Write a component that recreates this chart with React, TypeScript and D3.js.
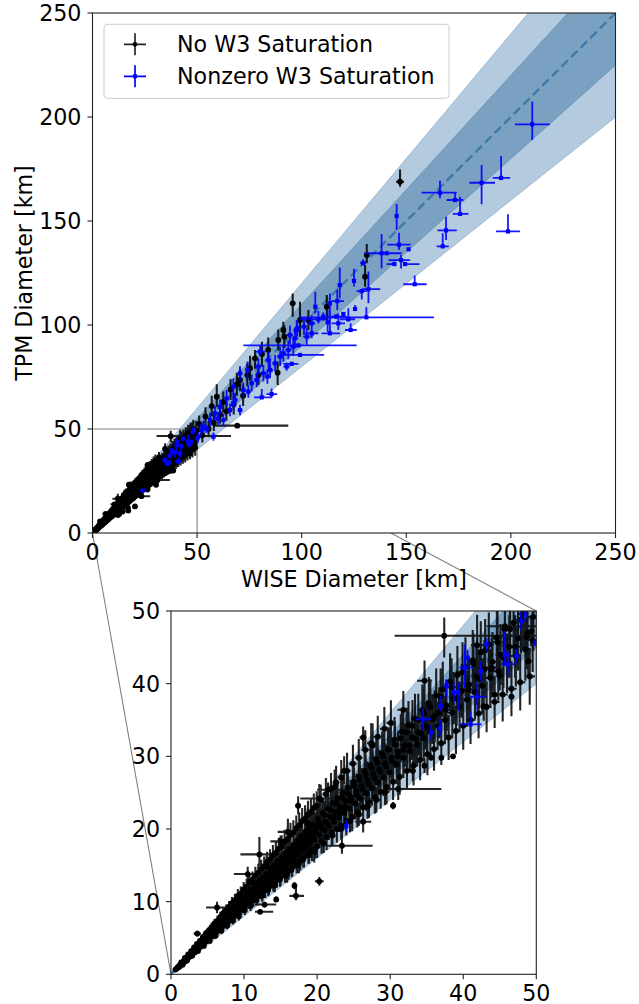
import React from 'react';
import * as d3 from 'd3';

type P = [number, number, number, number, number, number]; // x, y, xlo, xhi, ylo, yhi
type S = [number, number, number, number]; // x, y, xerr, yerr

const seriesNames = ['No W3 Saturation', 'Nonzero W3 Saturation'];
const xLabel = 'WISE Diameter [km]';
const yLabel = 'TPM Diameter [km]';
const topTicks = [0, 50, 100, 150, 200, 250];
const insetTicks = [0, 10, 20, 30, 40, 50];
const innerBand = [0.9, 1.1];
const outerBand = [0.8, 1.2];
const zoomBox = [0, 50];

// dense black cluster
const blackDenseA: S[] = [
  [0.8,0.8,0.02,0.1],[1.0,1.05,0.02,0.1],[1.2,1.1,0.03,0.12],[1.3,1.4,0.03,0.15],[1.5,1.45,0.03,0.15],[1.6,1.3,0.03,0.12],
  [1.7,1.8,0.04,0.2],[1.8,1.7,0.04,0.15],[1.9,2.0,0.04,0.2],[2.0,1.85,0.04,0.2],[2.1,2.2,0.05,0.25],[2.2,2.05,0.04,0.2],
  [2.3,2.4,0.05,0.25],[2.4,2.3,0.05,0.2],[2.5,2.6,0.05,0.3],[2.6,2.45,0.05,0.25],[2.7,2.8,0.06,0.3],[2.8,2.65,0.05,0.3],
  [2.9,3.05,0.06,0.3],[3.0,2.9,0.05,0.3],[3.1,3.2,0.07,0.35],[3.2,3.0,0.06,0.3],[3.3,3.5,0.07,0.4],[3.4,3.3,0.06,0.3],
  [3.5,3.7,0.08,0.4],[3.6,3.45,0.07,0.35],[3.7,3.9,0.08,0.4],[3.8,3.6,0.07,0.35],[3.9,4.1,0.09,0.45],[4.0,3.85,0.08,0.4],
  [4.1,4.3,0.09,0.4],[4.2,4.0,0.08,0.4],[4.3,4.6,0.1,0.5],[4.4,4.2,0.09,0.4],[4.5,4.75,0.1,0.5],[4.6,4.45,0.09,0.45],
  [4.7,4.9,0.1,0.5],[4.8,4.55,0.1,0.45],[4.9,5.2,0.1,0.55],[5.0,4.8,0.1,0.5],[2.2,1.95,0.05,0.15],[3.35,3.1,0.07,0.3],
];
const blackDenseB: S[] = [
  [5.1,5.3,0.1,0.5],[5.2,4.9,0.1,0.5],[5.3,5.7,0.12,0.6],[5.4,5.1,0.1,0.5],[5.5,5.6,0.12,0.6],[5.6,5.3,0.11,0.5],
  [5.7,6.2,0.12,0.7],[5.8,5.4,0.11,0.5],[5.9,6.0,0.12,0.6],[6.0,5.7,0.12,0.6],[6.1,6.6,0.13,0.7],[6.2,5.9,0.12,0.6],
  [6.3,6.4,0.13,0.7],[6.4,6.0,0.12,0.6],[6.5,7.0,0.14,0.8],[6.6,6.3,0.13,0.6],[6.7,6.8,0.14,0.7],[6.8,6.4,0.13,0.6],
  [6.9,7.4,0.15,0.8],[7.0,6.6,0.14,0.7],[7.1,7.2,0.15,0.7],[7.2,6.9,0.14,0.7],[7.3,7.8,0.16,0.8],[7.4,7.0,0.15,0.7],
  [7.5,7.6,0.16,0.8],[7.6,7.2,0.15,0.7],[7.7,8.3,0.17,0.9],[7.8,7.4,0.16,0.7],[7.9,8.0,0.17,0.8],[8.0,7.6,0.16,0.8],
  [8.1,8.7,0.18,0.9],[8.2,7.8,0.17,0.8],[8.3,8.4,0.18,0.8],[8.4,7.9,0.17,0.8],[8.5,9.2,0.19,1.0],[8.6,8.2,0.18,0.8],
  [8.7,8.8,0.19,0.9],[8.8,8.3,0.18,0.8],[8.9,9.6,0.2,1.0],[9.0,8.6,0.19,0.9],[9.1,9.2,0.2,0.9],[9.2,8.7,0.19,0.9],
  [9.3,10.1,0.21,1.0],[9.4,8.9,0.2,0.9],[9.5,9.6,0.21,1.0],[9.6,9.1,0.2,0.9],[9.7,10.4,0.22,1.1],[9.8,9.3,0.21,0.9],
  [9.9,9.9,0.22,1.0],[10.0,9.5,0.21,1.0],[6.05,6.1,0.12,0.5],[7.25,7.35,0.15,0.6],[8.45,8.55,0.18,0.7],[9.65,9.7,0.2,0.8],
];
const blackDenseC: S[] = [
  [10.1,10.6,0.22,1.0],[10.2,9.6,0.21,0.9],[10.4,11.2,0.23,1.1],[10.5,10.0,0.22,1.0],[10.6,10.9,0.23,1.0],[10.8,9.9,0.22,0.9],
  [10.9,11.6,0.24,1.2],[11.0,10.5,0.23,1.0],[11.2,11.0,0.24,1.1],[11.3,10.2,0.23,0.9],[11.4,12.3,0.25,1.2],[11.6,11.1,0.24,1.0],
  [11.7,11.8,0.25,1.1],[11.8,10.7,0.24,1.0],[12.0,12.9,0.26,1.3],[12.1,11.5,0.25,1.1],[12.2,12.4,0.26,1.2],[12.4,11.2,0.25,1.0],
  [12.5,13.3,0.27,1.3],[12.6,12.0,0.26,1.1],[12.8,12.9,0.27,1.2],[12.9,11.6,0.26,1.1],[13.0,13.8,0.28,1.4],[13.2,12.5,0.27,1.2],
  [13.3,13.2,0.28,1.2],[13.4,12.0,0.27,1.1],[13.6,14.5,0.29,1.4],[13.7,13.0,0.28,1.2],[13.8,13.8,0.29,1.3],[14.0,12.6,0.28,1.2],
  [14.1,15.0,0.3,1.5],[14.2,13.5,0.29,1.3],[14.4,14.3,0.3,1.3],[14.5,13.1,0.29,1.2],[14.6,15.6,0.31,1.5],[14.8,14.0,0.3,1.3],
  [14.9,14.9,0.31,1.4],[15.0,13.4,0.3,1.2],[15.2,16.1,0.32,1.5],[15.3,14.5,0.31,1.3],[15.4,15.4,0.32,1.4],[15.6,13.9,0.31,1.3],
  [15.7,16.7,0.33,1.6],[15.8,15.0,0.32,1.4],[16.0,15.9,0.33,1.5],[16.1,14.3,0.32,1.3],[16.2,17.2,0.34,1.6],[16.4,15.5,0.33,1.4],
  [16.5,16.4,0.34,1.5],[16.6,14.8,0.33,1.3],[16.8,17.8,0.35,1.7],[16.9,16.0,0.34,1.5],[17.0,17.0,0.35,1.6],[17.2,15.3,0.34,1.4],
  [17.3,18.4,0.36,1.7],[17.4,16.5,0.35,1.5],[17.6,17.5,0.36,1.6],[17.7,15.7,0.35,1.4],[17.8,19.0,0.37,1.8],[18.0,17.0,0.36,1.6],
  [18.1,18.0,0.37,1.7],[18.2,16.2,0.36,1.5],[18.4,19.6,0.38,1.8],[18.5,17.5,0.37,1.6],[18.6,18.5,0.38,1.7],[18.8,16.7,0.37,1.5],
  [18.9,20.1,0.39,1.9],[19.0,18.0,0.38,1.7],[19.2,19.0,0.39,1.8],[19.3,17.2,0.38,1.6],[19.4,20.6,0.4,1.9],[19.6,18.5,0.39,1.7],
  [19.8,19.6,0.4,1.8],[20.0,17.6,0.39,1.6],
];
const blackDenseD: S[] = [
  [20.1,21.4,0.4,2.0],[20.3,19.2,0.4,1.8],[20.5,20.4,0.41,1.9],[20.6,18.3,0.4,1.7],[20.8,22.2,0.42,2.1],[21.0,19.8,0.41,1.9],
  [21.1,21.0,0.42,2.0],[21.3,18.9,0.41,1.8],[21.5,22.8,0.43,2.2],[21.6,20.4,0.42,1.9],[21.8,21.7,0.43,2.0],[22.0,19.5,0.42,1.8],
  [22.1,23.6,0.44,2.3],[22.3,21.0,0.43,2.0],[22.5,22.3,0.44,2.1],[22.7,20.0,0.43,1.9],[22.8,24.2,0.45,2.4],[23.0,21.6,0.44,2.0],
  [23.2,23.0,0.45,2.2],[23.3,20.5,0.44,1.9],[23.5,25.0,0.46,2.4],[23.7,22.2,0.45,2.1],[23.9,23.8,0.46,2.3],[24.0,21.1,0.45,2.0],
  [24.2,25.7,0.47,2.5],[24.4,22.8,0.46,2.2],[24.6,24.4,0.47,2.3],[24.8,21.7,0.46,2.0],[25.0,26.5,0.48,2.6],[25.2,23.5,0.47,2.2],
  [25.4,25.2,0.48,2.4],[25.5,22.3,0.47,2.1],[25.7,27.2,0.49,2.7],[25.9,24.2,0.48,2.3],[26.1,25.9,0.49,2.5],[26.3,23.0,0.48,2.1],
  [26.5,28.0,0.5,2.8],[26.7,24.9,0.49,2.4],[26.9,26.7,0.5,2.6],[27.1,23.7,0.49,2.2],[27.3,28.8,0.51,2.9],[27.5,25.6,0.5,2.4],
  [27.7,27.5,0.51,2.6],[27.9,24.4,0.5,2.3],[28.1,29.6,0.52,3.0],[28.3,26.4,0.51,2.5],[28.5,28.2,0.52,2.7],[28.7,25.1,0.51,2.3],
  [28.9,30.4,0.53,3.0],[29.1,27.1,0.52,2.6],[29.3,29.0,0.53,2.8],[29.5,25.8,0.52,2.4],[29.7,31.0,0.54,3.0],[29.9,27.8,0.53,2.6],
];
const blackDenseE: S[] = [
  [30.2,29.8,0.55,2.8],[30.4,26.5,0.54,2.5],[30.6,32.3,0.56,3.1],[30.9,28.9,0.55,2.7],[31.1,30.6,0.56,2.9],[31.3,27.2,0.55,2.5],
  [31.6,33.4,0.57,3.2],[31.8,29.8,0.56,2.8],[32.0,31.5,0.57,3.0],[32.3,28.0,0.56,2.6],[32.5,34.3,0.58,3.3],[32.7,30.7,0.57,2.9],
  [33.0,32.6,0.58,3.1],[33.2,28.7,0.57,2.7],[33.4,35.2,0.59,3.4],[33.7,31.6,0.58,3.0],[33.9,33.3,0.59,3.2],[34.1,29.5,0.58,2.8],
  [34.4,36.4,0.6,3.5],[34.6,32.5,0.59,3.1],[34.8,34.2,0.6,3.3],[35.1,30.3,0.59,2.9],[35.3,37.3,0.61,3.6],[35.5,33.4,0.6,3.2],
  [35.8,35.1,0.61,3.4],[36.0,31.0,0.6,3.0],[36.3,38.4,0.62,3.7],[36.5,34.2,0.61,3.3],[36.7,36.0,0.62,3.5],[37.0,31.8,0.61,3.0],
  [37.2,39.2,0.63,3.8],[37.5,35.0,0.62,3.3],[37.7,37.0,0.63,3.5],[38.0,32.6,0.62,3.1],[38.2,40.3,0.64,3.9],[38.5,36.0,0.63,3.4],
  [38.7,38.0,0.64,3.6],[39.0,33.5,0.63,3.2],[39.2,41.2,0.65,4.0],[39.5,36.8,0.64,3.5],[39.8,39.0,0.65,3.7],[40.0,34.2,0.64,3.3],
  [40.3,42.3,0.66,4.1],[40.5,37.8,0.65,3.6],[40.8,39.9,0.66,3.8],[41.0,35.0,0.65,3.3],[41.3,43.2,0.67,4.2],[41.6,38.8,0.66,3.7],
  [41.8,41.0,0.67,3.9],[42.1,35.9,0.66,3.4],[42.4,44.3,0.68,4.3],[42.6,39.7,0.67,3.8],[42.9,42.0,0.68,4.0],[43.2,36.8,0.67,3.5],
  [43.5,45.4,0.69,4.4],[43.7,40.8,0.68,3.9],[44.0,43.0,0.69,4.1],[44.3,37.5,0.68,3.6],[44.6,46.3,0.7,4.5],[44.8,41.7,0.69,4.0],
  [45.1,44.0,0.7,4.2],[45.4,38.5,0.69,3.7],[45.7,47.5,0.71,4.6],[46.0,42.8,0.7,4.1],[46.3,45.1,0.71,4.3],[46.6,39.3,0.7,3.8],
  [46.9,48.4,0.72,4.7],[47.2,43.8,0.71,4.2],[47.5,46.2,0.72,4.4],[47.8,40.2,0.71,3.9],[48.2,49.6,0.73,4.8],[48.5,44.7,0.72,4.3],
  [48.8,47.0,0.73,4.5],[49.1,41.0,0.72,3.9],[49.5,46.0,0.74,4.4],
];
// further black points filling the dense ribbon
const blackDenseF: S[] = [
  [0.6,0.65,0.02,0.08],[0.9,0.95,0.02,0.1],[1.1,1.0,0.03,0.1],[1.25,1.3,0.03,0.12],[1.45,1.5,0.03,0.14],[1.65,1.6,0.04,0.15],
  [1.85,1.95,0.04,0.18],[2.05,2.0,0.04,0.2],[2.25,2.3,0.05,0.22],[2.45,2.5,0.05,0.24],[2.65,2.6,0.05,0.25],[2.85,2.95,0.06,0.28],
  [3.05,3.1,0.06,0.3],[3.25,3.2,0.07,0.3],[3.45,3.6,0.07,0.35],[3.65,3.75,0.07,0.36],[3.85,3.8,0.08,0.38],[4.05,4.2,0.08,0.4],
  [4.25,4.35,0.09,0.42],[4.45,4.4,0.09,0.44],[4.65,4.8,0.1,0.46],[4.85,4.9,0.1,0.48],[5.05,5.0,0.1,0.5],[5.35,5.5,0.11,0.55],
  [5.65,5.8,0.12,0.58],[5.95,5.85,0.12,0.6],[6.25,6.5,0.13,0.62],[6.55,6.6,0.13,0.65],[6.85,6.9,0.14,0.68],[7.15,7.0,0.15,0.7],
  [7.45,7.7,0.15,0.74],[7.75,7.8,0.16,0.77],[8.05,8.2,0.17,0.8],[8.35,8.1,0.17,0.82],[8.65,8.9,0.18,0.86],[8.95,9.1,0.19,0.88],
  [9.25,9.3,0.19,0.9],[9.55,9.4,0.2,0.93],[9.85,10.2,0.2,0.97],
];
const blackDenseG: S[] = [
  [10.15,10.3,0.21,1.0],[10.45,10.7,0.22,1.0],[10.75,10.6,0.22,1.05],[11.05,11.4,0.23,1.1],[11.35,11.3,0.24,1.1],[11.65,11.5,0.24,1.15],
  [11.95,12.2,0.25,1.2],[12.25,12.0,0.25,1.2],[12.55,12.9,0.26,1.25],[12.85,12.6,0.27,1.25],[13.15,13.4,0.27,1.3],[13.45,13.3,0.28,1.3],
  [13.75,14.1,0.29,1.35],[14.05,13.9,0.29,1.4],[14.35,14.8,0.3,1.45],[14.65,14.4,0.3,1.45],[14.95,15.4,0.31,1.5],[15.25,15.0,0.32,1.5],
  [15.55,16.0,0.32,1.55],[15.85,15.6,0.33,1.55],[16.15,16.6,0.34,1.6],[16.45,16.1,0.34,1.6],[16.75,17.3,0.35,1.65],[17.05,16.6,0.35,1.65],
  [17.35,17.9,0.36,1.7],[17.65,17.1,0.37,1.7],[17.95,18.5,0.37,1.75],[18.25,17.8,0.38,1.75],[18.55,19.2,0.39,1.8],[18.85,18.3,0.39,1.8],
  [19.15,19.8,0.4,1.85],[19.45,18.9,0.4,1.85],[19.75,20.4,0.41,1.9],[14.2,12.4,0.3,1.1],[15.9,13.8,0.33,1.2],[17.5,15.2,0.36,1.3],
  [18.7,20.8,0.39,2.0],[13.1,14.9,0.27,1.4],[11.2,12.7,0.23,1.2],[19.6,16.9,0.4,1.5],
];
const blackDenseH: S[] = [
  [20.25,20.9,0.42,1.95],[20.65,20.1,0.42,1.95],[21.05,21.9,0.43,2.0],[21.45,20.7,0.44,2.0],[21.85,22.6,0.45,2.1],[22.25,21.6,0.46,2.1],
  [22.65,23.5,0.46,2.2],[23.05,22.4,0.47,2.2],[23.45,24.3,0.48,2.3],[23.85,23.0,0.49,2.3],[24.25,24.9,0.5,2.4],[24.65,23.9,0.5,2.4],
  [25.05,25.9,0.51,2.5],[25.45,24.7,0.52,2.5],[25.85,26.8,0.53,2.6],[26.25,25.5,0.54,2.6],[26.65,27.4,0.55,2.7],[27.05,26.2,0.55,2.7],
  [27.45,28.4,0.56,2.8],[27.85,27.0,0.57,2.8],[28.25,29.1,0.58,2.9],[28.65,27.9,0.59,2.9],[29.05,30.0,0.6,3.0],[29.45,28.6,0.6,3.0],
  [29.85,30.9,0.61,3.1],[30.25,29.3,0.62,3.1],[30.65,31.6,0.63,3.2],[31.05,30.0,0.64,3.2],[31.45,32.5,0.64,3.3],[31.85,30.9,0.65,3.3],
  [32.25,33.3,0.66,3.4],[32.65,31.5,0.67,3.4],[33.05,34.2,0.68,3.5],[33.45,32.4,0.69,3.5],[33.85,35.0,0.69,3.6],[34.25,33.1,0.7,3.6],
  [34.65,35.9,0.71,3.7],[35.05,34.0,0.72,3.7],[22.4,25.8,0.46,2.4],[27.6,31.5,0.56,3.0],
];
const blackDenseI: S[] = [
  [35.5,36.8,0.73,3.8],[36.1,35.5,0.74,3.6],[36.9,38.2,0.75,3.9],[37.6,36.4,0.77,3.7],[38.4,39.5,0.78,4.0],[39.1,38.0,0.8,3.8],
  [39.9,41.6,0.81,4.1],[40.7,39.2,0.83,3.9],[41.4,42.7,0.84,4.2],[42.2,40.6,0.86,4.0],[43.0,44.6,0.87,4.3],[43.9,42.2,0.89,4.1],
  [44.7,45.7,0.9,4.4],[45.5,43.6,0.92,4.2],[46.4,47.5,0.93,4.5],[47.1,45.1,0.95,4.3],[47.9,48.8,0.96,4.6],[48.7,46.4,0.98,4.4],
  [49.6,49.2,1.0,4.7],[41.9,45.3,0.85,4.2],
];
// upper edge of the ribbon
const blackDenseJ: S[] = [
  [1.4,1.65,0.03,0.15],[1.9,2.25,0.04,0.2],[2.35,2.75,0.05,0.25],[2.75,3.2,0.06,0.3],[3.15,3.7,0.07,0.35],[3.55,4.2,0.07,0.4],
  [3.95,4.6,0.08,0.4],[4.35,5.1,0.09,0.45],[4.75,5.6,0.1,0.5],[5.15,6.0,0.1,0.55],[5.55,6.5,0.11,0.6],[5.95,7.0,0.12,0.6],
  [6.35,7.4,0.13,0.65],[6.75,7.9,0.14,0.7],[7.15,8.4,0.15,0.75],[7.55,8.8,0.15,0.8],[7.95,9.3,0.16,0.8],[8.35,9.8,0.17,0.85],
  [8.75,10.2,0.18,0.9],[9.15,10.8,0.19,0.95],[9.55,11.1,0.2,1.0],[9.95,11.7,0.2,1.0],[10.35,12.1,0.21,1.05],[10.75,12.7,0.22,1.1],
  [11.15,13.0,0.23,1.15],[11.55,13.6,0.24,1.2],[11.95,14.0,0.25,1.2],[12.35,14.5,0.25,1.25],[12.75,14.9,0.26,1.3],[13.15,15.5,0.27,1.35],
  [13.55,15.8,0.28,1.4],[13.95,16.4,0.29,1.4],[14.35,16.7,0.3,1.45],[14.75,17.3,0.3,1.5],[15.15,17.6,0.31,1.55],[15.55,18.3,0.32,1.6],
  [15.95,18.6,0.33,1.6],[16.35,19.2,0.34,1.65],[16.75,19.5,0.35,1.7],[17.15,20.1,0.35,1.75],[17.55,20.5,0.36,1.8],[17.95,21.1,0.37,1.8],
  [18.35,21.4,0.38,1.85],[18.75,22.0,0.39,1.9],[19.15,22.3,0.4,1.95],[19.55,22.9,0.4,2.0],[19.95,23.2,0.41,2.0],[20.5,24.0,0.42,2.1],
  [21.2,24.8,0.44,2.2],[21.9,25.5,0.45,2.2],[22.6,26.4,0.46,2.3],[23.3,27.1,0.48,2.4],[24.1,28.0,0.49,2.5],[24.9,29.0,0.51,2.6],
  [25.7,29.8,0.52,2.6],[26.6,30.9,0.54,2.7],[27.4,31.8,0.56,2.8],[28.3,32.7,0.57,2.9],[29.2,33.8,0.59,3.0],[30.1,34.6,0.6,3.1],
];
// lower edge of the ribbon
const blackDenseK: S[] = [
  [2.1,1.85,0.05,0.15],[2.9,2.55,0.06,0.2],[3.7,3.2,0.07,0.25],[4.5,3.9,0.09,0.3],[5.3,4.6,0.11,0.35],[6.1,5.3,0.12,0.4],
  [6.9,6.0,0.14,0.45],[7.7,6.7,0.16,0.5],[8.5,7.4,0.17,0.55],[9.3,8.0,0.19,0.6],[10.1,8.8,0.2,0.65],[10.9,9.4,0.22,0.7],
  [11.7,10.2,0.24,0.75],[12.5,10.8,0.25,0.8],[13.3,11.6,0.27,0.85],[14.1,12.2,0.28,0.9],[14.9,13.0,0.3,0.95],[15.7,13.6,0.32,1.0],
  [16.5,14.4,0.33,1.05],[17.3,15.0,0.35,1.1],[18.1,15.8,0.36,1.15],[18.9,16.4,0.38,1.2],[19.7,17.2,0.4,1.25],[20.9,18.0,0.42,1.3],
  [22.1,19.1,0.44,1.4],[23.3,20.0,0.47,1.45],[24.5,21.1,0.49,1.55],[25.7,22.0,0.51,1.6],[26.9,23.1,0.54,1.7],[28.1,24.0,0.56,1.75],
  [29.3,25.1,0.59,1.85],
];
// individually read black points (inset and main panel)
const blackSingles: P[] = [
  [37.4,46.6,6.8,28.8,3.0,2.5],[45.7,47.9,2.5,4.3,1.5,1.5],[34.7,40.4,1.0,1.0,2.8,2.8],[31.8,36.4,0.8,0.8,2.9,2.6],
  [26.3,32.6,0.5,0.5,1.5,1.5],[17.4,23.2,0.4,0.4,1.2,1.3],[20.3,24.2,2.6,7.5,2.0,2.0],[21.5,25.4,1.5,2.5,1.0,1.0],
  [31.1,25.5,2.1,5.9,1.5,1.5],[30.4,23.2,0.4,0.4,0.5,0.5],[26.3,21.0,1.1,1.1,1.5,1.5],[23.4,17.7,2.1,4.2,1.1,2.5],
  [20.3,12.8,0.6,0.6,0.6,0.6],[17.1,10.8,0.9,1.1,0.6,1.2],[16.9,12.2,0.3,0.3,0.5,0.5],[14.4,10.3,0.3,0.3,0.4,0.4],
  [12.8,9.6,1.3,1.6,0.4,0.4],[12.2,8.6,0.7,1.8,0.3,0.3],[12.1,16.5,2.6,2.3,1.6,2.4],[10.5,13.8,1.9,2.1,1.0,1.0],
  [6.3,9.2,1.5,1.6,0.8,0.8],[3.6,5.6,0.5,0.5,0.4,0.4],[16.0,19.6,1.4,1.8,1.0,1.8],[15.0,18.3,1.4,1.3,0.8,0.8],
  [23.7,28.0,0.5,0.5,1.8,2.0],[38.6,30.0,0.3,0.3,0.2,0.2],[37.0,29.8,0.3,0.3,0.2,0.2],[35.6,29.8,0.3,0.3,0.2,0.2],
  [34.7,28.7,0.3,0.3,1.0,1.0],[33.1,28.0,0.4,0.4,1.4,1.4],[46.6,38.2,0.4,0.4,0.6,1.3],[44.3,38.5,0.4,0.4,1.0,1.0],
  [42.8,36.9,0.4,0.4,2.0,2.0],[48.9,43.1,0.5,0.5,2.1,1.8],[45.0,41.1,0.5,0.5,2.0,2.0],[43.8,42.0,0.5,0.5,2.5,2.5],
  [49.3,47.2,0.5,0.5,2.0,2.0],
];
const blackLarge: P[] = [
  [147.0,168.9,1.9,1.9,2.4,5.9],[131.1,133.7,1.2,1.2,4.0,5.3],[130.3,123.2,1.2,1.2,4.8,5.6],[112.0,108.8,1.0,1.0,6.4,5.6],
  [103.2,102.4,1.0,1.0,4.8,4.8],[99.2,102.4,1.0,1.0,8.0,8.8],[95.7,110.4,1.0,1.0,6.4,4.8],[91.7,94.4,1.0,1.0,5.5,5.5],
  [91.2,97.6,1.0,1.0,4.0,4.0],[88.8,92.8,1.0,1.0,5.0,5.0],[88.5,77.1,1.0,1.0,5.9,5.3],[84.0,88.0,1.0,1.0,6.0,6.0],
  [81.0,86.0,1.0,1.0,6.0,6.0],[79.3,76.0,1.0,1.0,5.0,5.0],[77.7,84.0,1.0,1.0,5.0,4.0],[75.3,79.2,1.0,1.0,6.0,6.0],
  [74.0,76.0,1.0,1.0,5.5,5.5],[72.0,66.0,1.0,1.0,5.0,5.0],[70.5,73.6,1.0,1.0,5.5,5.5],[69.2,51.6,11.5,24.4,1.0,1.0],
  [69.0,71.5,1.0,1.0,5.5,5.5],[67.5,62.0,1.0,1.0,5.0,5.0],[66.0,69.0,1.0,1.0,5.0,5.0],[64.0,58.5,1.0,1.0,4.5,4.5],
  [62.5,63.0,1.0,1.0,5.0,5.0],[61.0,57.0,1.0,1.0,4.5,4.5],[59.4,65.5,1.0,1.0,5.0,6.0],[58.0,53.0,1.0,1.0,4.0,4.0],
  [57.0,61.0,1.0,1.0,5.0,5.0],[55.5,50.0,1.0,1.0,4.0,4.0],[54.0,56.0,1.0,1.0,4.5,4.5],[52.5,47.0,1.0,1.0,3.5,3.5],
  [51.0,52.5,1.0,1.0,4.0,4.0],
];
const blueSmall: P[] = [
  [41.0,34.4,1.4,1.5,0.2,1.8],[41.9,38.2,1.1,1.2,1.9,2.0],[34.5,35.1,1.0,1.1,1.5,1.5],[35.6,33.3,0.3,0.3,1.0,1.0],
  [36.8,33.9,0.3,0.3,1.2,1.2],[36.9,36.9,0.3,0.3,0.7,1.4],[37.7,39.7,0.3,0.3,1.6,0.9],[38.7,38.8,0.3,0.3,1.4,1.4],
  [39.3,38.8,0.3,0.3,2.5,1.4],[40.2,42.2,0.7,1.1,2.8,3.2],[40.6,43.6,0.3,0.3,1.0,1.0],[42.4,41.7,0.3,0.3,1.4,1.4],
  [43.2,45.4,0.3,0.3,0.9,0.9],[45.7,44.0,0.3,0.3,1.6,3.2],[46.1,42.7,0.9,0.9,1.6,1.8],[47.3,43.8,0.3,0.3,1.0,1.0],
  [47.9,48.6,0.3,0.3,1.2,1.4],[49.9,45.6,0.3,0.3,0.5,0.5],[24.0,20.4,0.2,0.2,0.8,0.8],[48.5,49.5,0.3,0.3,1.0,1.5],
];
const blueMid: P[] = [
  [50.5,46.0,0.8,0.8,2.5,2.5],[52.0,49.5,0.8,0.8,3.0,3.0],[53.0,51.1,0.9,0.9,3.0,3.0],[54.5,50.0,1.5,1.5,2.0,2.0],
  [56.2,54.3,0.9,0.9,3.0,3.5],[57.8,46.3,1.0,1.0,2.0,2.0],[58.6,57.5,1.0,1.0,3.0,3.5],[60.0,55.0,1.0,1.0,3.0,3.0],
  [61.0,60.7,1.0,1.0,3.5,3.5],[62.6,54.3,1.0,1.0,3.0,3.0],[64.1,64.7,1.0,1.0,3.5,4.0],[65.7,59.1,1.0,1.0,3.0,3.0],
  [67.3,62.4,1.1,1.1,3.5,3.5],[67.3,70.3,1.1,1.1,4.0,4.0],[68.2,63.9,1.1,1.1,3.5,3.5],[70.5,59.1,1.2,1.2,2.5,2.5],
  [70.5,76.8,1.2,1.2,3.5,3.5],[72.1,68.8,1.2,1.2,3.5,3.5],[74.1,78.4,1.2,1.2,4.0,4.0],[74.5,68.0,1.2,1.2,3.0,3.0],
  [76.1,72.0,1.2,1.2,4.0,4.0],[78.5,73.6,1.3,1.3,3.5,3.5],[80.1,87.2,2.4,2.4,1.6,3.2],[79.3,80.0,1.3,1.3,4.0,4.0],
  [80.9,65.2,3.7,4.8,0.3,4.0],[81.7,76.8,1.3,1.3,4.0,4.0],[83.6,75.2,1.3,1.3,3.5,3.5],[84.1,83.2,1.4,1.4,4.0,4.0],
  [84.9,78.4,1.4,1.4,4.0,4.0],[85.6,66.8,2.4,2.7,1.6,2.7],[87.3,81.6,1.4,1.4,4.0,4.0],[89.7,84.8,1.5,1.5,4.5,4.5],
  [91.2,86.4,1.5,1.5,4.0,4.0],[92.8,80.0,1.5,1.5,2.0,2.0],[93.6,88.0,1.5,1.5,4.5,4.5],[94.4,95.2,1.5,1.5,4.5,4.5],
  [95.2,81.3,4.0,3.2,1.0,1.0],[96.0,89.6,1.6,1.6,4.5,4.5],[96.8,93.6,1.6,1.6,4.5,4.5],[97.6,97.6,1.6,1.6,3.2,4.8],
  [97.9,98.4,1.6,1.6,4.0,4.0],[98.4,90.2,26.3,27.9,0.5,0.5],[99.2,85.6,9.6,11.5,0.5,0.5],[101.1,99.2,1.6,1.6,4.0,4.0],
  [102.4,94.4,1.7,1.7,4.0,4.0],[104.8,100.8,1.7,1.7,4.0,4.0],[104.8,96.0,3.2,3.2,2.4,4.0],
];
const blueLarge: P[] = [
  [210.2,196.5,8.3,8.4,7.5,10.9],[186.0,168.4,5.9,6.4,10.3,8.5],[195.3,170.7,4.0,4.3,0.5,10.6],[198.6,145.0,5.7,5.7,0.5,8.3],
  [166.1,163.6,8.8,8.0,2.7,5.8],[173.3,160.1,4.0,4.0,0.5,3.5],[175.7,153.4,3.5,4.0,0.5,8.3],[169.0,145.5,4.1,5.1,4.6,6.6],
  [167.4,137.8,2.9,2.9,0.5,6.3],[145.4,152.4,0.5,0.5,6.7,5.8],[146.5,138.6,5.6,5.6,2.6,5.8],[151.1,136.4,0.5,0.5,0.5,0.5],
  [138.2,134.5,8.0,1.6,7.2,9.3],[140.6,134.5,0.8,7.2,0.5,0.5],[147.5,131.2,6.0,4.3,4.0,2.4],[144.3,129.3,3.7,0.5,0.5,0.5],
  [149.4,129.3,0.8,6.9,0.5,0.5],[154.0,119.6,5.4,5.7,0.5,4.2],[129.3,129.7,1.4,1.4,0.5,1.9],[125.0,121.2,0.5,0.5,2.7,5.8],
  [118.2,119.2,0.5,0.5,6.4,8.5],[128.7,116.3,2.4,2.4,4.0,0.5],[131.9,117.2,3.2,5.6,6.7,8.5],[117.0,111.5,2.7,3.2,4.3,5.3],
  [106.5,108.8,0.5,0.5,3.2,7.2],[113.5,110.4,0.5,0.5,4.0,4.8],[125.5,107.7,0.5,0.5,0.5,1.9],[130.9,103.7,31.7,32.3,0.5,4.8],
  [122.3,102.7,4.0,3.2,0.5,5.3],[123.4,97.6,2.7,2.9,0.5,3.2],[117.5,100.8,3.2,3.2,3.2,4.8],[113.5,96.0,4.0,4.8,0.5,12.0],
  [112.4,101.3,0.5,0.5,4.5,5.9],[108.0,102.7,8.8,4.0,2.0,4.0],[110.3,104.0,0.5,0.5,2.0,2.0],[116.4,104.0,4.5,5.1,1.0,1.0],
  [119.9,105.3,0.5,0.5,1.0,1.0],
];

const sym = (a: S[]): P[] => a.map(([x, y, ex, ey]) => [x, y, ex, ex, ey, ey]);
const blackAll: P[] = [
  ...sym(blackDenseA), ...sym(blackDenseB), ...sym(blackDenseC), ...sym(blackDenseD), ...sym(blackDenseE),
  ...sym(blackDenseF), ...sym(blackDenseG), ...sym(blackDenseH), ...sym(blackDenseI), ...sym(blackDenseJ),
  ...sym(blackDenseK), ...blackSingles, ...blackLarge,
];
const blueAll: P[] = [...blueSmall, ...blueMid, ...blueLarge];

const FONT = 'DejaVu Sans, sans-serif';
const FS = 22.2;
const BAND_OUT = '#b4cade';
const BAND_IN = '#7aa1c1';
const DASH = '#3f79a8';
const BLACK = '#000000';
const BLUE = '#0000ff';

type Sc = d3.ScaleLinear<number, number>;

function barsPath(pts: P[], xs: Sc, ys: Sc) {
  const p = d3.path();
  for (const [x, y, xl, xh, yl, yh] of pts) {
    p.moveTo(xs(x - xl), ys(y));
    p.lineTo(xs(x + xh), ys(y));
    p.moveTo(xs(x), ys(y - yl));
    p.lineTo(xs(x), ys(y + yh));
  }
  return p.toString();
}

function Panel({ xs, ys, max, ticks, id, showLabels }: { xs: Sc; ys: Sc; max: number; ticks: number[]; id: string; showLabels: boolean }) {
  const [x0, x1] = xs.range();
  const [y0, y1] = ys.range(); // y0 bottom, y1 top
  const dom = [0, max];
  const band = (lo: number, hi: number) =>
    d3.area<number>().x((d) => xs(d)).y0((d) => ys(d * lo)).y1((d) => ys(d * hi))(dom) || '';
  const diag = d3.line<number>().x((d) => xs(d)).y((d) => ys(d))(dom) || '';
  return (
    <g>
      <rect x={x0} y={y1} width={x1 - x0} height={y0 - y1} fill="#fff" />
      <defs>
        <clipPath id={id}>
          <rect x={x0} y={y1} width={x1 - x0} height={y0 - y1} />
        </clipPath>
      </defs>
      <g clipPath={`url(#${id})`}>
        <path d={band(outerBand[0], outerBand[1])} fill={BAND_OUT} stroke="#9fbbd4" strokeWidth={1} />
        <path d={band(innerBand[0], innerBand[1])} fill={BAND_IN} stroke="#6d97ba" strokeWidth={1} />
        <path d={diag} fill="none" stroke={DASH} strokeWidth={2.4} strokeDasharray="9,4.5" />
        {showLabels && (
          <path
            d={`M${xs(0)},${ys(zoomBox[1])}H${xs(zoomBox[1])}V${ys(0)}`}
            fill="none"
            stroke="#808080"
            strokeWidth={1.1}
          />
        )}
        <path d={barsPath(blackAll, xs, ys)} fill="none" stroke={BLACK} strokeOpacity={0.85} strokeWidth={2.1} />
        {blackAll.map((d, i) => (
          <circle key={'b' + i} cx={xs(d[0])} cy={ys(d[1])} r={2.9} fill={BLACK} />
        ))}
        <path d={barsPath(blueAll, xs, ys)} fill="none" stroke={BLUE} strokeOpacity={0.9} strokeWidth={1.8} />
        {blueAll.map((d, i) => (
          <rect key={'u' + i} x={xs(d[0]) - 2.1} y={ys(d[1]) - 2.1} width={4.2} height={4.2} fill={BLUE} />
        ))}
      </g>
      <rect x={x0} y={y1} width={x1 - x0} height={y0 - y1} fill="none" stroke="#222" strokeWidth={1.1} />
      {ticks.map((t) => (
        <g key={'x' + t}>
          <line x1={xs(t)} x2={xs(t)} y1={y0} y2={y0 + 5} stroke="#222" strokeWidth={1.1} />
          <text x={xs(t)} y={y0 + 27} textAnchor="middle" fontSize={FS} fontFamily={FONT} fill="#000">
            {t}
          </text>
        </g>
      ))}
      {ticks.map((t) => (
        <g key={'y' + t}>
          <line x1={x0 - 5} x2={x0} y1={ys(t)} y2={ys(t)} stroke="#222" strokeWidth={1.1} />
          <text x={x0 - 11} y={ys(t) + 8} textAnchor="end" fontSize={FS} fontFamily={FONT} fill="#000">
            {t}
          </text>
        </g>
      ))}
      {showLabels && (
        <>
          <text x={(x0 + x1) / 2} y={587} textAnchor="middle" fontSize={FS} fontFamily={FONT} fill="#000">
            {xLabel}
          </text>
          <text
            transform={`translate(31.5,${(y0 + y1) / 2}) rotate(-90)`}
            textAnchor="middle"
            fontSize={FS}
            fontFamily={FONT}
            fill="#000"
          >
            {yLabel}
          </text>
          <rect x={104} y={24.3} width={345} height={74} rx={3.5} fill="#fff" fillOpacity={0.85} stroke="#cccccc" strokeWidth={1} />
          {seriesNames.map((name, i) => {
            const cy = 44.3 + i * 32;
            const col = i === 0 ? BLACK : BLUE;
            return (
              <g key={name}>
                <path d={`M124,${cy}H146M135,${cy - 11}V${cy + 11}`} stroke={col} strokeWidth={1.7} strokeOpacity={i === 0 ? 0.85 : 1} />
                {i === 0 ? (
                  <circle cx={135} cy={cy} r={2.4} fill={col} />
                ) : (
                  <rect x={133} y={cy - 2} width={4} height={4} fill={col} />
                )}
                <text x={177} y={cy + 8} fontSize={FS} fontFamily={FONT} fill="#000">
                  {name}
                </text>
              </g>
            );
          })}
        </>
      )}
    </g>
  );
}

export default function App() {
  const xTop = d3.scaleLinear().domain([topTicks[0], topTicks[topTicks.length - 1]]).range([92.5, 615.5]);
  const yTop = d3.scaleLinear().domain([topTicks[0], topTicks[topTicks.length - 1]]).range([533, 13]);
  const xIn = d3.scaleLinear().domain([insetTicks[0], insetTicks[insetTicks.length - 1]]).range([171, 536.3]);
  const yIn = d3.scaleLinear().domain([insetTicks[0], insetTicks[insetTicks.length - 1]]).range([974.3, 611]);
  return (
    <svg
      width={639}
      height={1004}
      style={{ position: 'absolute', left: 0, top: 0, background: '#fff' }}
      xmlns="http://www.w3.org/2000/svg"
    >
      <rect x={0} y={0} width={639} height={1004} fill="#fff" />
      {/* connectors from zoom box to inset */}
      <path
        d={`M${xTop(zoomBox[0])},${yTop(zoomBox[0])}L${xIn(zoomBox[0])},${yIn(zoomBox[0])}M${xTop(zoomBox[1])},${yTop(zoomBox[1])}L${xIn(zoomBox[1])},${yIn(zoomBox[1])}`}
        stroke="#808080"
        strokeWidth={1.1}
        fill="none"
      />
      <Panel xs={xTop} ys={yTop} max={topTicks[topTicks.length - 1]} ticks={topTicks} id="clipTop" showLabels={true} />
      <Panel xs={xIn} ys={yIn} max={insetTicks[insetTicks.length - 1]} ticks={insetTicks} id="clipIn" showLabels={false} />
    </svg>
  );
}
